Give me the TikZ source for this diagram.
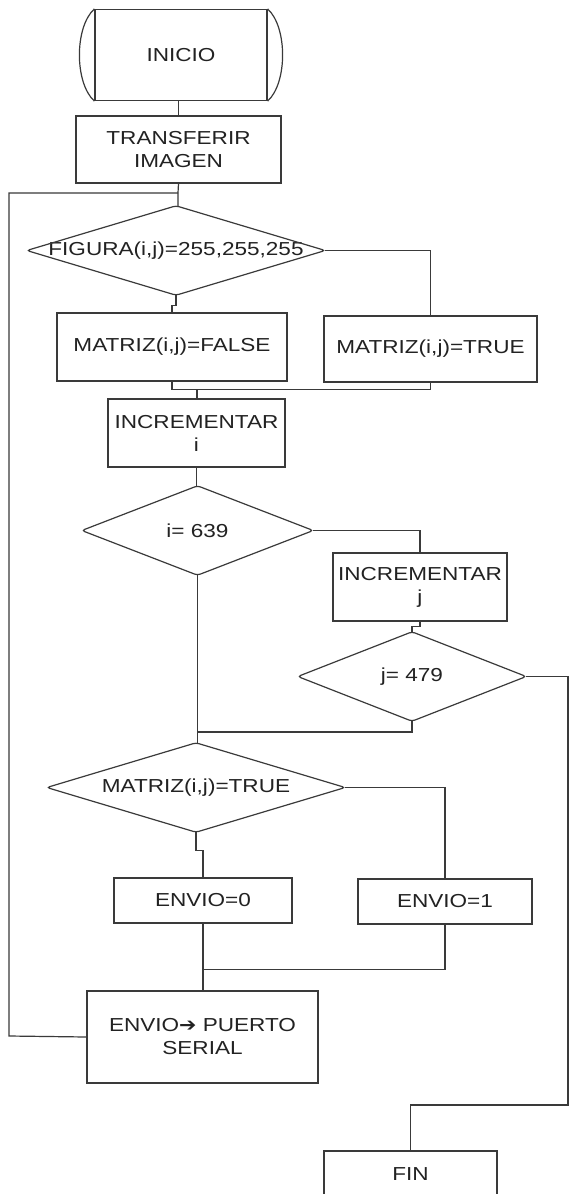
\documentclass[tikz,border=0pt]{standalone}
\usepackage{fontspec}
\setmainfont[FakeStretch=1.2]{Liberation Sans}
\newfontfamily\dejavu[FakeStretch=1.1]{DejaVu Sans}
\newcommand\fsz{\fontsize{18.8}{23}\selectfont}
\definecolor{linec}{HTML}{3A3A3A}
\definecolor{textc}{HTML}{222222}
\begin{document}
\begin{tikzpicture}[x=1pt,y=-1pt,
  box/.style={draw=linec, line width=1.2pt, rectangle, inner sep=0pt, align=center, font=\fsz, text=textc},
  decnode/.style={rectangle, inner sep=0pt, align=center, font=\fsz, text=textc},
  conn/.style={draw=linec, line width=1.2pt},
  decshape/.style={draw=linec, line width=1.2pt, rounded corners=3pt}]
\useasboundingbox[fill=white] (0,0) rectangle (570,1194);

% nodes
\node[box, minimum width=172pt, minimum height=91pt] (inicio) at (181,55) {INICIO};
\node[box, minimum width=205pt, minimum height=67pt] (transferir) at (178.5,149.5) {TRANSFERIR\\IMAGEN};
\node[decnode, minimum width=298pt, minimum height=89pt] (figura) at (176,250.5) {FIGURA(i,j)=255,255,255};
\node[box, minimum width=230pt, minimum height=68pt] (mfalse) at (172,347) {MATRIZ(i,j)=FALSE};
\node[box, minimum width=213pt, minimum height=66pt] (mtrue) at (430.5,349) {MATRIZ(i,j)=TRUE};
\node[box, minimum width=177pt, minimum height=68pt] (inci) at (196.5,433) {INCREMENTAR\\i};
\node[decnode, minimum width=231pt, minimum height=89pt] (di) at (197.5,530.5) {i= 639};
\node[box, minimum width=174pt, minimum height=68pt] (incj) at (420,587) {INCREMENTAR\\j};
\node[decnode, minimum width=228pt, minimum height=89pt] (dj) at (412,676.5) {j= 479};
\node[decnode, minimum width=298pt, minimum height=89pt] (dm) at (196,787.5) {MATRIZ(i,j)=TRUE};
\node[box, minimum width=178pt, minimum height=45pt] (envio0) at (203,900.5) {ENVIO=0};
\node[box, minimum width=174pt, minimum height=45pt] (envio1) at (445,901.5) {ENVIO=1};
\node[box, minimum width=231pt, minimum height=92pt] (puerto) at (202.5,1037) {ENVIO{\dejavu ➔} PUERTO\\SERIAL};
\node[box, minimum width=173pt, minimum height=47pt] (fin) at (410.5,1174.5) {FIN};

% rounded ends of INICIO
\draw[conn] (inicio.north west) .. controls +(-20,18) and +(-20,-18) .. (inicio.south west);
\draw[conn] (inicio.north east) .. controls +(20,18) and +(20,-18) .. (inicio.south east);

% diamonds
\foreach \d in {figura,di,dj,dm}
  \draw[decshape] (\d.north) -- (\d.east) -- (\d.south) -- (\d.west) -- cycle;

% junction coordinates
\coordinate (j1) at (178,193);
\coordinate (m1) at (197,389);
\coordinate (m2) at (197,732);
\coordinate (r1) at (568,1105);
\coordinate (lb) at (9,1036);

% connectors
\draw[conn] (transferir.north) -- (transferir.north |- inicio.south);
\draw[conn] (transferir.south) -- (j1) -- (j1 |- figura.north);
\draw[conn] (figura.south) -- ++(0,10) -| (mfalse.north);
\draw[conn] (figura.east) -| (mtrue.north);
\draw[conn] (mfalse.south) -- ++(0,8) -| (mtrue.south);
\draw[conn] (m1) -- (m1 |- inci.north);
\draw[conn] (inci.south) -- (inci.south |- di.north);
\draw[conn] (di.east) -| (incj.north);
\draw[conn] (incj.south) -- ++(0,5) -| (dj.north);
\draw[conn] (di.south) -- (di.south |- dm.north);
\draw[conn] (dj.south) |- (m2);
\draw[conn] (dj.east) -| (r1) -| (fin.north);
\draw[conn] (dm.east) -| (envio1.north);
\draw[conn] (dm.south) -- ++(0,18) -| (envio0.north);
\draw[conn] (envio0.south) -- ++(0,46) -| (envio1.south);
\draw[conn] (envio0.south) -- (envio0.south |- puerto.north);
\draw[conn] (puerto.west) -- (lb) |- (j1);
\end{tikzpicture}
\end{document}
